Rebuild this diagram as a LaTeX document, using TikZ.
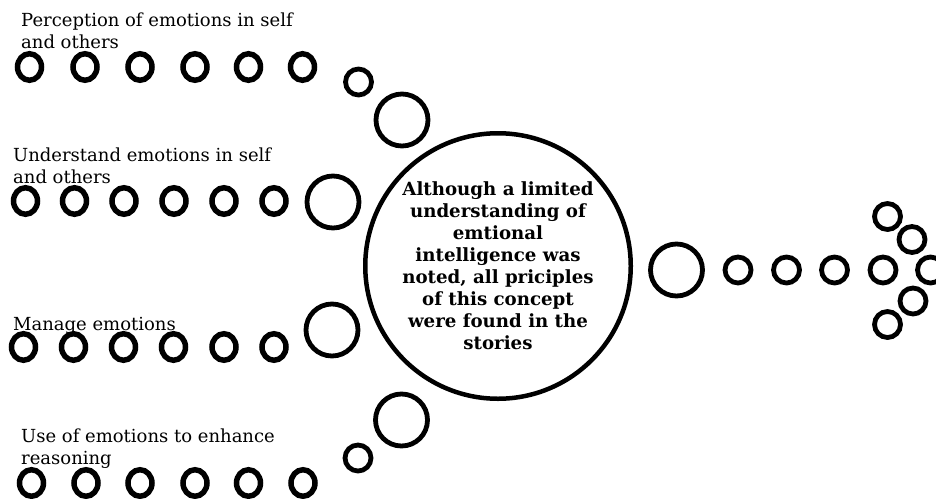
\documentclass[tikz,border=0pt]{standalone}
\usepackage{fontspec}
\setmainfont{DejaVu Serif}
\usetikzlibrary{shapes.geometric}

\begin{document}
\begin{tikzpicture}[
      x=1pt,y=-1pt,
      dot/.style={draw=black,ellipse,line width=5.5pt,inner sep=0pt,
        minimum width=24pt,minimum height=26.5pt},
      ring/.style={draw=black,circle,line width=4.8pt,inner sep=0pt,minimum size=26pt},
      bigring/.style={draw=black,circle,line width=4.8pt,inner sep=0pt,minimum size=52pt},
      hub/.style={draw=black,circle,line width=4.5pt,inner sep=0pt,minimum size=265.5pt,
        align=center,font=\fontsize{18.2}{22}\selectfont\bfseries},
      lbl/.style={anchor=base west,align=left,inner sep=0pt,
        font=\fontsize{18}{22}\selectfont}
    ]
    \path[use as bounding box] (0,0) rectangle (936,498);

    % four rows of dots on the left
    \foreach \x [count=\i] in {29.5,85,140,195,248.5,302.5}
      \node[dot] (pa\i) at (\x,67) {};
    \foreach \x [count=\i] in {25.5,74.5,124,174,224,274}
      \node[dot] (ua\i) at (\x,201) {};
    \foreach \x [count=\i] in {23.5,73.5,123.5,173.5,224,274}
      \node[dot] (ma\i) at (\x,347) {};
    \foreach \x [count=\i] in {31.5,86,140,195,248.5,303}
      \node[dot] (ea\i) at (\x,483) {};

    % anchors sit on the last line's baseline
    \node[lbl] (perc) at (21,48) {Perception of emotions in self\\and others};
    \node[lbl] (und) at (13,183) {Understand emotions in self\\and others};
    \node[lbl] (man) at (13,330) {Manage emotions};
    \node[lbl] (use) at (21,464) {Use of emotions to enhance\\reasoning};

    % rings leading into the hub
    \node[ring] (pb) at (358.5,82) {};
    \node[bigring] (pc) at (402,120) {};
    \node[bigring] (ub) at (333,202) {};
    \node[bigring] (mb) at (332,330) {};
    \node[ring] (eb) at (358,458) {};
    \node[bigring] (ec) at (401.5,420) {};

    \node[hub] (hub) at (498,266)
      {Although a limited\\understanding of\\emtional\\intelligence was\\noted, all priciples\\of this concept\\were found in the\\stories};

    % arrow of rings on the right
    \node[bigring] (out) at (676.5,270) {};
    \foreach \x [count=\i] in {738,786.5,834.5,883}
      \node[ring] (ra\i) at (\x,270) {};
    \node[ring] (tip1) at (887.5,216.5) {};
    \node[ring] (tip2) at (912,239.5) {};
    \node[ring] (tip3) at (930.5,270) {};
    \node[ring] (tip4) at (913,301) {};
    \node[ring] (tip5) at (887.5,324.5) {};
  \end{tikzpicture}
\end{document}
